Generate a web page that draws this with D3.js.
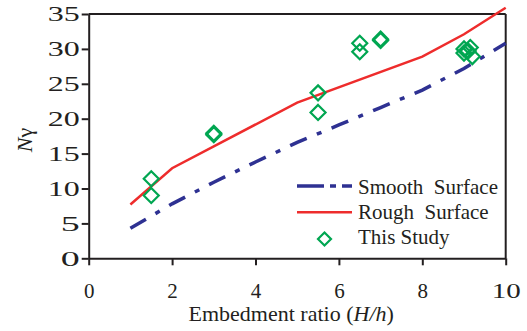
<!DOCTYPE html>
<html><head><meta charset="utf-8">
<script src="https://cdn.jsdelivr.net/npm/d3@7"></script>
<style>
body{margin:0;background:#fff;}
text{font-family:"Liberation Serif","Times New Roman",serif;fill:#231f20;}
</style></head>
<body><svg id="c" width="527" height="331"></svg>
<script>
const xTicks = [0,2,4,6,8,10];
const yTicks = [0,5,10,15,20,25,30,35];
const smoothX = [1,2,3,4,5,6,7,8,9,10];
const smoothY = [4.3,7.8,10.9,13.8,16.6,19.1,21.6,24.1,27.2,30.8];
const roughX = [1,2,5,8,9,10];
const roughY = [7.7,12.9,22.3,28.9,32.1,35.9];
const studyX = [1.5,1.5,3,3,5.5,5.5,6.5,6.5,7,7,9.0,9.0,9.1,9.15,9.2];
const studyY = [11.4,9.0,17.9,17.7,23.7,20.9,30.8,29.6,31.4,31.2,30.0,29.4,29.7,30.2,28.9];
const legendLabels = ["Smooth  Surface","Rough  Surface","This Study"];

const svg = d3.select("#c");
const x = d3.scaleLinear().domain([0,10]).range([88.7,505.7]);
const y = d3.scaleLinear().domain([0,35]).range([258.3,14]);
const ink = "#231f20";

// frame (top/right)
svg.append("line").attr("x1",x(0)).attr("x2",x(10)).attr("y1",y(35)).attr("y2",y(35)).attr("stroke",ink).attr("stroke-width",2);
svg.append("line").attr("x1",x(10)).attr("x2",x(10)).attr("y1",y(35)).attr("y2",y(0)).attr("stroke",ink).attr("stroke-width",2);

const ax = svg.append("g").attr("transform",`translate(0,${y(0)})`)
  .call(d3.axisBottom(x).tickValues(xTicks).tickFormat(d3.format("d")).tickSize(7).tickSizeOuter(0).tickPadding(18));
const ay = svg.append("g").attr("transform",`translate(${x(0)},0)`)
  .call(d3.axisLeft(y).tickValues(yTicks).tickFormat(d3.format("d")).tickSize(7).tickSizeOuter(0).tickPadding(2));
[ax,ay].forEach(g=>{
  g.selectAll("path,line").attr("stroke",ink).attr("stroke-width",2);
  g.selectAll("text").attr("font-size",21).attr("font-family","Liberation Serif").attr("fill",ink);
});
// the reference's y tick digits are drawn wider than normal
ay.selectAll(".tick text").attr("lengthAdjust","spacingAndGlyphs")
  .attr("textLength",d=>String(d).length>1?32:19);
ax.selectAll(".tick text").filter(d=>d===10).attr("lengthAdjust","spacingAndGlyphs").attr("textLength",29);

// lines
const sData = smoothX.map((v,i)=>[v,smoothY[i]]);
const rData = roughX.map((v,i)=>[v,roughY[i]]);
const line = d3.line().x(d=>x(d[0])).y(d=>y(d[1]));
svg.append("path").attr("d",line(sData)).attr("fill","none").attr("stroke","#2e3192")
  .attr("stroke-width",3.5).attr("stroke-dasharray","18,11,5,11");
svg.append("path").attr("d",line(rData)).attr("fill","none").attr("stroke","#ee2c2c")
  .attr("stroke-width",2.5);

// diamonds
const diamond = s => `M0,${-s}L${s},0L0,${s}L${-s},0Z`;
svg.append("g").selectAll("path").data(studyX.map((v,i)=>[v,studyY[i]])).join("path")
  .attr("d",diamond(7.5)).attr("transform",d=>`translate(${x(d[0])},${y(d[1])})`)
  .attr("fill","none").attr("stroke","#00a651").attr("stroke-width",2.2);

// legend
const lg = svg.append("g");
lg.append("line").attr("x1",297).attr("x2",352).attr("y1",186).attr("y2",186)
  .attr("stroke","#2e3192").attr("stroke-width",3.5).attr("stroke-dasharray","27,6,6,6");
lg.append("line").attr("x1",297).attr("x2",352).attr("y1",212.3).attr("y2",212.3)
  .attr("stroke","#ee2c2c").attr("stroke-width",2.5);
lg.append("path").attr("d",diamond(6.5)).attr("transform","translate(324.5,239)")
  .attr("fill","none").attr("stroke","#00a651").attr("stroke-width",2.2);
lg.selectAll("text").data(legendLabels).join("text")
  .attr("x",358).attr("y",(d,i)=>193.5+i*25.3).attr("font-size",21)
  .style("white-space","pre").attr("xml:space","preserve").text(d=>d);

// axis titles
const xt = svg.append("text").attr("x",x(5)-6).attr("y",321).attr("text-anchor","middle").attr("font-size",22);
xt.append("tspan").text("Embedment ratio (");
xt.append("tspan").attr("font-style","italic").text("H/h");
xt.append("tspan").text(")");
const yt = svg.append("text").attr("transform","translate(32,140) rotate(-90)").attr("text-anchor","middle").attr("font-size",22);
yt.append("tspan").attr("font-style","italic").text("N");
yt.append("tspan").text("γ");
</script></body></html>
